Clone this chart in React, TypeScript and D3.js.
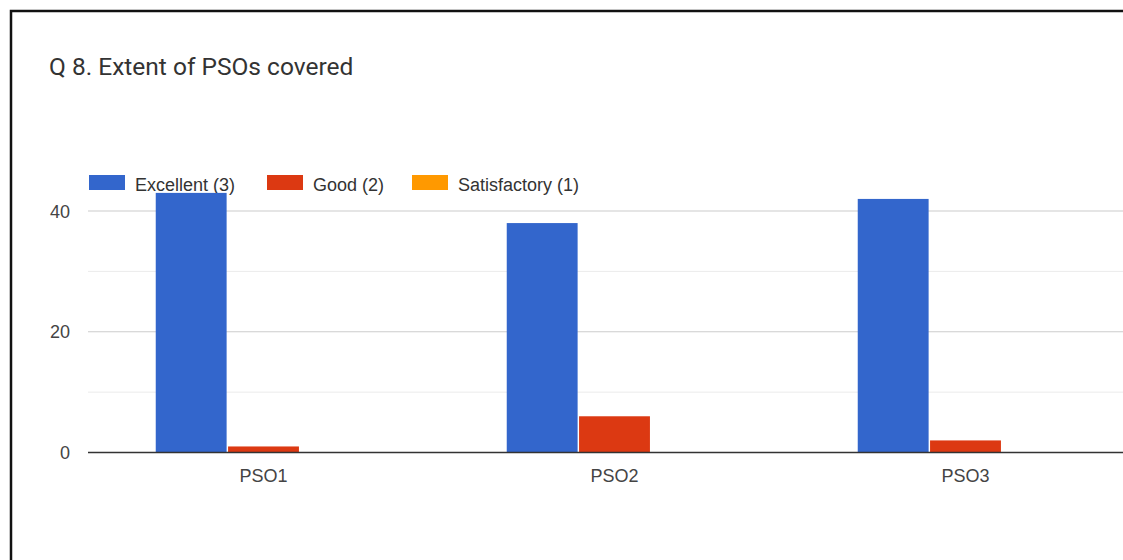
import React from "react";
import * as d3 from "d3";

const categories = ["PSO1", "PSO2", "PSO3"];
const seriesNames = ["Excellent (3)", "Good (2)", "Satisfactory (1)"];
const excellent = [43, 38, 42];
const good = [1, 6, 2];
const satisfactory = [0, 0, 0];
const yTicks = [0, 20, 40];
const yMinorTicks = [10, 30];
const colors = ["#3366cc", "#dc3912", "#ff9900"];

export default function App() {
  const W = 1123;
  const H = 560;
  const plotLeft = 88;
  const plotRight = 1141;
  const y0 = 452.5;
  const y = d3.scaleLinear().domain([0, 40]).range([y0, 211]);
  const x0 = d3.scaleBand<string>().domain(categories).range([plotLeft, plotRight]).padding(0);
  const groupW = x0.step() * 0.614;
  const x1 = d3
    .scaleBand<number>()
    .domain([0, 1, 2])
    .range([0, groupW])
    .paddingInner(0.02);
  const series = [excellent, good, satisfactory];
  const titleFont = "Roboto, Arial, sans-serif";
  const font = "'Liberation Sans', Arial, sans-serif";

  const legendX = [89, 267, 412];

  return (
    <svg
      width={W}
      height={H}
      style={{ position: "fixed", left: 0, top: 0, background: "#fff" }}
      fontFamily={font}
    >
      <rect x={0} y={0} width={W} height={H} fill="#fff" />
      {/* border */}
      <path d={`M11,${H} L11,11 L${W},11`} fill="none" stroke="#111" strokeWidth={2.5} />
      <text x={49} y={75} fontSize={24.5} fill="#333" fontFamily={titleFont}>
        Q 8. Extent of PSOs covered
      </text>
      {/* legend */}
      {seriesNames.map((n, i) => (
        <g key={n}>
          <rect x={legendX[i]} y={175} width={36} height={15} fill={colors[i]} />
          <text x={legendX[i] + 46} y={190.5} fontSize={18} fill="#333">
            {n}
          </text>
        </g>
      ))}
      {/* minor gridlines */}
      {yMinorTicks.map((t) => (
        <line key={"m" + t} x1={plotLeft} x2={W} y1={y(t)} y2={y(t)} stroke="#ebebeb" strokeWidth={1} />
      ))}
      {yTicks.map((t) => (
        <g key={t}>
          {t !== 0 && (
            <line x1={plotLeft} x2={W} y1={y(t)} y2={y(t)} stroke="#cccccc" strokeWidth={1.2} />
          )}
          <text x={70} y={y(t) + 6.5} fontSize={18} fill="#444" textAnchor="end">
            {t}
          </text>
        </g>
      ))}
      {/* bars */}
      {categories.map((c, ci) => {
        const gx = (x0(c) as number) + (x0.bandwidth() - groupW) / 2;
        return series.map((s, si) =>
          s[ci] > 0 ? (
            <rect
              key={c + si}
              x={gx + (x1(si) as number)}
              y={y(s[ci])}
              width={x1.bandwidth()}
              height={y0 - y(s[ci])}
              fill={colors[si]}
            />
          ) : null
        );
      })}
      {/* baseline */}
      <line x1={plotLeft} x2={W} y1={y0} y2={y0} stroke="#333" strokeWidth={1.5} />
      {categories.map((c) => (
        <text
          key={c}
          x={(x0(c) as number) + x0.bandwidth() / 2}
          y={482}
          fontSize={18}
          fill="#444"
          textAnchor="middle"
        >
          {c}
        </text>
      ))}
    </svg>
  );
}
